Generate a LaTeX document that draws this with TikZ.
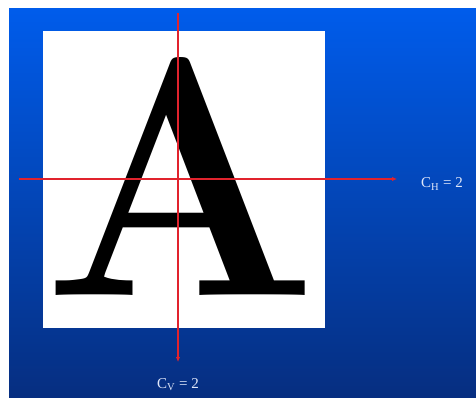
\documentclass[tikz,border=0pt]{standalone}
\usepackage{fontspec}
\setmainfont{Liberation Serif}
\newfontfamily\glyphfont{Latin Modern Roman}
\usepackage{graphicx}
\usepackage{tikz}
\usetikzlibrary{arrows.meta,positioning}
\definecolor{slidetop}{RGB}{0,92,235}
\definecolor{slidemid}{RGB}{0,72,200}
\definecolor{slidebot}{RGB}{6,46,128}
\definecolor{axisred}{RGB}{225,35,45}
\definecolor{lbltext}{RGB}{225,232,250}

\begin{document}
\begin{tikzpicture}[x=1pt, y=-1pt,
  axis/.style={draw=axisred, line width=1.4pt, -{Latex[length=5pt, width=4.5pt]}},
  lbl/.style={text=lbltext, font=\fontsize{15}{15}\selectfont, inner sep=0pt}
]
\useasboundingbox (0,0) rectangle (476,398);
\shade[top color=slidetop, middle color=slidemid, bottom color=slidebot] (9,9) rectangle (476,398);
\node[fill=white, minimum width=282pt, minimum height=296pt, inner sep=0pt] (sheet) at (184,179.5) {};
\node[anchor=base, inner sep=0pt, font=\glyphfont\fontsize{340}{340}\selectfont\bfseries] (letter) at (181,295) {\scalebox{0.95}[1]{A}};
% cut lines through the glyph
\coordinate (vtop) at (178,13);
\coordinate (vbot) at (178,362);
\coordinate (hleft) at (19,179);
\coordinate (hright) at (397,179);
\draw[axis] (vtop) -- (vbot);
\draw[axis] (hleft) -- (hright);
\node[lbl] (ch) at (442,184) {C\textsubscript{H} = 2};
\node[lbl] (cv) at (178,385) {C\textsubscript{V} = 2};
\end{tikzpicture}
\end{document}
